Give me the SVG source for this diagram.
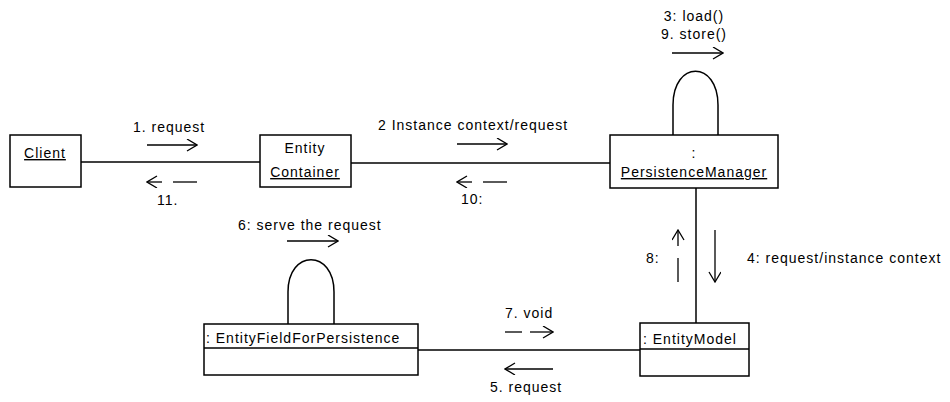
<svg xmlns="http://www.w3.org/2000/svg" width="950" height="402" viewBox="0 0 950 402">
<style>
  text { font-family: "Liberation Sans", Arial, sans-serif; font-size: 14px; fill: #000; letter-spacing: 1px; }
  .box { fill: #fff; stroke: #000; stroke-width: 1.5; }
  .ln { fill: none; stroke: #000; stroke-width: 1.5; }
  .ar { fill: none; stroke: #000; stroke-width: 1.3; }
  .u { text-decoration: underline; }
  .c { text-anchor: middle; }
</style>
<defs>
  <marker id="open" markerWidth="12" markerHeight="14" refX="11" refY="6" orient="auto" markerUnits="userSpaceOnUse">
    <path d="M1,0 L11,6 L1,12" fill="none" stroke="#000" stroke-width="1.3"/>
  </marker>
</defs>

<g id="connectors">
  <line class="ln" x1="81" y1="162" x2="260" y2="162"/>
  <line class="ln" x1="351" y1="163" x2="610" y2="163"/>
  <line class="ln" x1="696" y1="188" x2="696" y2="323"/>
  <line class="ln" x1="418" y1="350" x2="640" y2="350"/>
  <path class="ln" d="M673,135 L673,105 C673,60 718,60 718,105 L718,135"/>
  <path class="ln" d="M288,324 L288,292 C288,249 334,249 334,292 L334,324"/>

  <!-- message arrows -->
  <line class="ar" x1="147" y1="145" x2="197" y2="145" marker-end="url(#open)"/>
  <line class="ar" x1="173" y1="182" x2="197" y2="182"/>
  <line class="ar" x1="162" y1="182" x2="147" y2="182" marker-end="url(#open)"/>
  <line class="ar" x1="457" y1="144" x2="507" y2="144" marker-end="url(#open)"/>
  <line class="ar" x1="483" y1="182" x2="507" y2="182"/>
  <line class="ar" x1="472" y1="182" x2="457" y2="182" marker-end="url(#open)"/>
  <line class="ar" x1="672" y1="53" x2="723" y2="53" marker-end="url(#open)"/>
  <line class="ar" x1="287" y1="241" x2="338" y2="241" marker-end="url(#open)"/>
  <line class="ar" x1="678" y1="282" x2="678" y2="258"/>
  <line class="ar" x1="678" y1="246" x2="678" y2="230" marker-end="url(#open)"/>
  <line class="ar" x1="715" y1="230" x2="715" y2="282" marker-end="url(#open)"/>
  <line class="ar" x1="505" y1="332" x2="522" y2="332"/>
  <line class="ar" x1="530" y1="332" x2="553" y2="332" marker-end="url(#open)"/>
  <line class="ar" x1="553" y1="369" x2="505" y2="369" marker-end="url(#open)"/>

  <text x="133" y="132">1. request</text>
  <text x="157" y="205">11.</text>
  <text x="378" y="130">2  Instance context/request</text>
  <text x="461" y="204">10:</text>
  <text x="694" y="21" class="c">3: load()</text>
  <text x="694" y="39" class="c">9. store()</text>
  <text x="238" y="230">6: serve the request</text>
  <text x="505" y="318">7. void</text>
  <text x="490" y="392">5. request</text>
  <text x="646" y="263">8:</text>
  <text x="747" y="263">4: request/instance context</text>
</g>

<g id="client">
  <rect class="box" x="10" y="135" width="71" height="52"/>
  <text x="45" y="158" class="c u">Client</text>
</g>

<g id="entity-container">
  <rect class="box" x="260" y="135" width="91" height="52"/>
  <text x="305" y="153" class="c">Entity</text>
  <text x="305" y="177" class="c u">Container</text>
</g>

<g id="persistence-manager">
  <rect class="box" x="610" y="135" width="168" height="53"/>
  <text x="694" y="158" class="c">:</text>
  <text x="694" y="177" class="c u">PersistenceManager</text>
</g>

<g id="entity-field-for-persistence">
  <rect class="box" x="204" y="324" width="214" height="51"/>
  <line class="ln" x1="204" y1="348" x2="418" y2="348"/>
  <text x="206" y="343">: EntityFieldForPersistence</text>
</g>

<g id="entity-model">
  <rect class="box" x="640" y="323" width="109" height="53"/>
  <line class="ln" x1="640" y1="349" x2="749" y2="349"/>
  <text x="643" y="344">: EntityModel</text>
</g>
</svg>
